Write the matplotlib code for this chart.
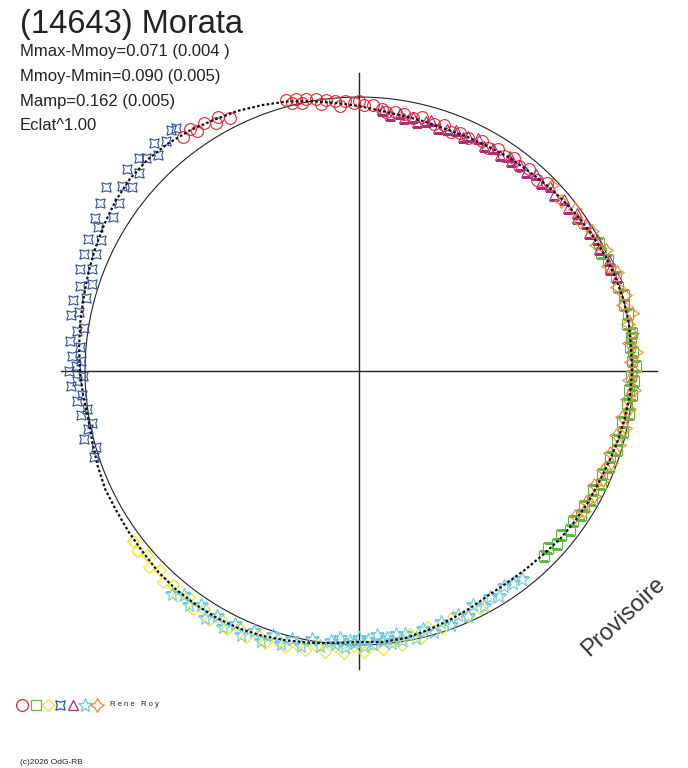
import numpy as np
import matplotlib
matplotlib.use("Agg")
import matplotlib.pyplot as plt

plt.rcParams['font.family'] = ['Liberation Sans', 'DejaVu Sans']

# polar light curve: angle = rotational phase (deg, clockwise from top), radius in px units
R_REF = 274
AXIS_LEN = 298

fit_theta = list(range(0, 360, 5))
fit_r = [265, 261, 259, 258, 257, 258, 259, 261, 262, 264, 266, 268,
         270, 272, 273, 274, 274, 273, 273, 272, 270, 268, 266, 264.5,
         264, 263, 262, 260, 259, 258.5, 259, 262, 265, 268, 271, 272,
         271, 273, 276, 279, 282, 284, 285, 285, 285, 284, 282, 281,
         280, 280, 278, 276, 275, 277, 279, 281, 283, 285, 288, 291,
         294, 297, 299, 299, 297, 294, 290, 287, 283, 279, 274, 269]

red_theta = [-37, -35, -34, -32, -30, -29, -27, -15, -14, -13, -12, -11, -9, -8,
             -7, -5, -4, -3, -1, 0, 1, 3, 5, 6, 8, 10, 12, 14, 17, 19, 21, 23,
             25, 28, 30, 32, 34, 36, 38, 40, 43, 45]
red_r = [293, 295, 289, 292, 286, 290, 284, 281, 276, 279, 274, 277, 275, 270,
         273, 271, 266, 270, 268, 270, 266, 266, 263, 260, 262, 261, 259, 262,
         258, 260, 256, 259, 257, 261, 257, 262, 259, 263, 260, 264, 261, 266]

green_theta = [62, 64, 66, 68, 70, 72, 74, 76, 78, 80, 82, 83, 85, 86, 88, 89,
               91, 92, 94, 95, 97, 99, 101, 103, 105, 107, 109, 111, 113, 115,
               117, 119, 121, 123, 125, 127, 129, 131, 133, 135]
green_r = [272, 269, 273, 271, 274, 272, 276, 273, 275, 272, 276, 274, 272, 275,
           273, 277, 272, 275, 271, 274, 270, 273, 268, 271, 267, 270, 265, 268,
           264, 267, 263, 266, 262, 265, 261, 264, 260, 263, 259, 262]

yellow_theta = [153, 156, 159, 162, 165, 167, 169, 171, 173, 175, 177, 179, 181,
                183, 185, 187, 189, 191, 193, 195, 197, 199, 201, 203, 205, 207,
                209, 211, 213, 215, 217, 219, 221, 223, 225, 227, 229, 231, 233]
yellow_r = [266, 268, 262, 270, 265, 274, 268, 277, 271, 279, 273, 281, 275,
            282, 276, 283, 278, 284, 280, 286, 281, 288, 283, 289, 284, 290,
            285, 291, 284, 290, 283, 289, 284, 288, 282, 287, 281, 286, 283]

blue_theta = [252, 254, 256, 258, 259, 261, 262, 264, 265, 267, 268, 269, 270,
              271, 272, 273, 275, 276, 278, 279, 281, 282, 284, 285, 287, 288,
              290, 291, 293, 294, 296, 297, 299, 300, 302, 303, 305, 306, 308,
              309, 311, 312, 314, 315, 317, 318, 320, 322, 323]
blue_r = [279, 274, 283, 277, 272, 281, 275, 284, 278, 288, 282, 276, 290,
          283, 278, 287, 280, 291, 285, 278, 293, 286, 295, 283, 292, 281,
          297, 286, 299, 288, 302, 289, 298, 305, 290, 309, 293, 313, 301,
          292, 308, 296, 306, 301, 295, 307, 300, 306, 304]

magenta_theta = [5, 7, 9, 10, 12, 13, 15, 16, 18, 20, 22, 24, 25, 27, 29, 31,
                 33, 35, 36, 38, 40, 42, 44, 46, 48, 50, 52, 54, 55, 57, 59,
                 61, 63, 66, 68, 70]
magenta_r = [262, 258, 261, 257, 260, 256, 259, 261, 255, 258, 260, 256, 259,
             262, 257, 260, 258, 263, 259, 262, 260, 265, 262, 266, 263, 268,
             265, 269, 266, 271, 268, 272, 269, 274, 271, 275]

cyan_theta = [142, 144, 146, 148, 150, 152, 154, 156, 158, 160, 162, 164, 166,
              168, 170, 171, 172, 173, 174, 175, 176, 177, 178, 179, 180, 181,
              182, 183, 184, 185, 186, 188, 190, 192, 194, 196, 198, 200, 202,
              204, 206, 208, 210, 212, 214, 216, 218, 220]
cyan_r = [264, 262, 259, 265, 261, 266, 260, 268, 263, 270, 264, 272, 266,
          273, 267, 272, 266, 274, 268, 271, 265, 273, 269, 275, 267, 272,
          270, 276, 268, 274, 271, 278, 272, 281, 276, 284, 278, 287, 280,
          289, 282, 290, 283, 291, 282, 289, 284, 291]

orange_theta = [46, 50, 53, 56, 59, 62, 64, 67, 69, 72, 74, 76, 78, 80, 82, 84,
                86, 88, 90, 92, 94, 96, 98, 100, 102, 104, 106, 108, 110, 112,
                114, 116, 118, 120, 122, 124]
orange_r = [268, 264, 270, 266, 272, 268, 275, 270, 276, 271, 277, 272, 279,
            273, 276, 271, 278, 272, 275, 270, 276, 269, 273, 267, 272, 265,
            270, 264, 268, 263, 267, 261, 266, 262, 265, 260]

sessions = [
    (red_theta, red_r, 'o', '#e8262f', 8.5),
    (green_theta, green_r, 's', '#5db847', 7.0),
    (yellow_theta, yellow_r, 'D', '#f2e21c', 6.5),
    (blue_theta, blue_r, (4, 1, 45), '#2f4f9f', 9.5),
    (magenta_theta, magenta_r, '^', '#b02a78', 7.5),
    (cyan_theta, cyan_r, '*', '#6ccadc', 10.0),
    (orange_theta, orange_r, (4, 1, 0), '#f0882e', 10.0),
]

fig = plt.figure(figsize=(6.88, 7.68), dpi=100)
fig.patch.set_facecolor('white')

# polar axes centred at pixel (359, 371), 1 data unit = 1 px
rmax = 320
ax = fig.add_axes([(359 - rmax) / 688, (768 - 371 - rmax) / 768,
                   2 * rmax / 688, 2 * rmax / 768], projection='polar')
ax.set_theta_zero_location('N')
ax.set_theta_direction(-1)
ax.set_rlim(0, rmax)
ax.grid(False)
ax.set_xticks([])
ax.set_yticks([])
ax.spines['polar'].set_visible(False)
ax.patch.set_alpha(0)

# cross axes
for a in (0, 90, 180, 270):
    ax.plot([np.radians(a)] * 2, [0, AXIS_LEN], color='#222222', lw=1.0, zorder=1)

# reference circle
circ_t = np.radians(np.arange(0, 361))
ax.plot(circ_t, np.full(circ_t.shape, R_REF), color='#222222', lw=0.8, zorder=2)

for th, r, mk, col, ms in sessions:
    ax.plot(np.radians(th), r, linestyle='none', marker=mk, mfc='none',
            mec=col, ms=ms, mew=0.8, zorder=3)

ft = np.radians(fit_theta + [360])
fr = fit_r + [fit_r[0]]
ax.plot(ft, fr, color='#111111', lw=1.6, linestyle=(0, (1.2, 1.0)), zorder=4)

# texts
fig.text(20 / 688, 1 - 33 / 768, '(14643) Morata', fontsize=23.5, color='#222222',
         va='baseline', ha='left')
info = ['Mmax-Mmoy=0.071 (0.004 )', 'Mmoy-Mmin=0.090 (0.005)',
        'Mamp=0.162 (0.005)', 'Eclat^1.00']
for i, s in enumerate(info):
    fig.text(20 / 688, 1 - (56 + 24.8 * i) / 768, s, fontsize=12,
             color='#222222', va='baseline', ha='left')

fig.text(623 / 688, 1 - 617 / 768, 'Provisoire', fontsize=17, color='#333333',
         rotation=43, ha='center', va='center', rotation_mode='anchor')

# session legend row
lg = fig.add_axes([0, 0, 1, 1])
lg.set_xlim(0, 688)
lg.set_ylim(768, 0)
lg.axis('off')
lg_x = [22, 35.5, 47.5, 60, 72.5, 84.5, 96.5]
for x, (th, r, mk, col, ms) in zip(lg_x, sessions):
    lg.plot([x], [705], marker=mk, mfc='none', mec=col, ms=ms, mew=0.9,
            linestyle='none')
lg.text(110, 705, 'R e n e   R o y', fontsize=5.5, color='#222222',
        va='center', ha='left')
lg.text(20, 763, '(c)2026 OdG-RB', fontsize=6, color='#222222',
        va='center', ha='left')

fig.savefig('out.png', dpi=100)
